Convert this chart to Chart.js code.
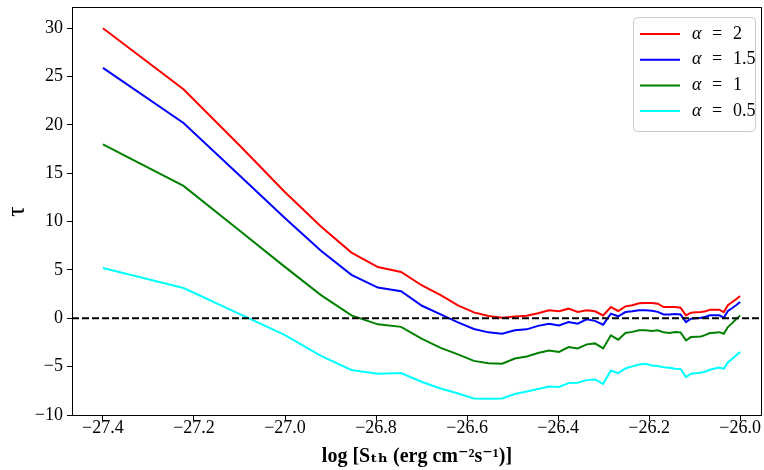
<!DOCTYPE html>
<html><head><meta charset="utf-8">
<script src="https://cdn.jsdelivr.net/npm/chart.js@4"></script>
<style>html,body{margin:0;padding:0;background:#fff}#wrap{width:764px;height:470px}</style>
</head><body><div id="wrap"><canvas id="c" width="764" height="470"></canvas></div>
<script>
const xVals = [-27.400,-27.223,-27.098,-27.001,-26.921,-26.854,-26.796,-26.745,-26.699,-26.658,-26.620,-26.585,-26.553,-26.523,-26.495,-26.469,-26.444,-26.420,-26.398,-26.377,-26.357,-26.337,-26.319,-26.301,-26.284,-26.268,-26.252,-26.237,-26.222,-26.208,-26.194,-26.181,-26.168,-26.155,-26.143,-26.131,-26.119,-26.108,-26.097,-26.086,-26.076,-26.066,-26.056,-26.046,-26.036,-26.027,-26.018,-26.009,-26.000];
const tauAlpha2 = [30.0,23.7,17.8,13.1,9.5,6.8,5.3,4.8,3.4,2.4,1.35,0.62,0.24,0.07,0.2,0.26,0.52,0.83,0.73,1.0,0.65,0.83,0.73,0.3,1.17,0.76,1.24,1.35,1.55,1.59,1.59,1.52,1.17,1.17,1.17,1.1,0.31,0.59,0.62,0.65,0.73,0.9,0.9,0.9,0.65,1.35,1.66,1.97,2.31];
const tauAlpha15 = [25.9,20.2,14.7,10.4,7.0,4.5,3.18,2.8,1.3,0.41,-0.41,-1.1,-1.45,-1.59,-1.24,-1.14,-0.78,-0.57,-0.73,-0.38,-0.55,-0.1,-0.26,-0.65,0.49,0.21,0.65,0.73,0.83,0.83,0.78,0.67,0.41,0.41,0.44,0.41,-0.38,-0.03,0.0,0.07,0.16,0.31,0.31,0.31,0.07,0.76,1.04,1.35,1.69];
const tauAlpha1 = [18.0,13.7,9.0,5.35,2.4,0.31,-0.62,-0.88,-2.12,-3.06,-3.73,-4.4,-4.64,-4.69,-4.15,-3.94,-3.58,-3.32,-3.47,-2.97,-3.11,-2.69,-2.59,-3.11,-1.76,-2.21,-1.52,-1.4,-1.24,-1.24,-1.3,-1.24,-1.45,-1.52,-1.42,-1.45,-2.28,-1.94,-1.9,-1.87,-1.71,-1.52,-1.48,-1.43,-1.59,-0.9,-0.52,-0.1,0.31];
const tauAlpha05 = [5.21,3.14,0.41,-1.71,-3.89,-5.34,-5.73,-5.65,-6.58,-7.25,-7.77,-8.29,-8.32,-8.29,-7.82,-7.56,-7.31,-7.05,-7.1,-6.7,-6.66,-6.39,-6.32,-6.77,-5.39,-5.67,-5.18,-4.97,-4.77,-4.69,-4.87,-4.94,-5.05,-5.11,-5.21,-5.23,-6.08,-5.73,-5.68,-5.63,-5.49,-5.32,-5.18,-5.08,-5.21,-4.56,-4.2,-3.83,-3.49];
const seriesLabels = ['α = 2','α = 1.5','α = 1','α = 0.5'];
const seriesColors = ['#ff0000','#0000ff','#008000','#00ffff'];
const xTicks = [-27.4,-27.2,-27.0,-26.8,-26.6,-26.4,-26.2,-26.0];
const yTicks = [-10,-5,0,5,10,15,20,25,30];
const xTitle = 'log [Sₜₕ (erg cm⁻²s⁻¹)]';
const yTitle = 'τ';
const refLevel = 0;

const FONT = "'Liberation Serif','DejaVu Serif',serif";
const allSeries = [tauAlpha2, tauAlpha15, tauAlpha1, tauAlpha05];
const fmt = (v, d) => (v < 0 ? '\u2212' : '') + Math.abs(v).toFixed(d);

const bgPlugin = {
  id: 'bg',
  beforeDraw(chart) {
    const ctx = chart.ctx; ctx.save(); ctx.fillStyle = '#fff';
    ctx.fillRect(0, 0, chart.width, chart.height); ctx.restore();
  }
};
const refPlugin = {
  id: 'ref',
  afterDatasetsDraw(chart) {
    const {ctx, chartArea: a, scales} = chart;
    const y = scales.y.getPixelForValue(refLevel);
    ctx.save(); ctx.strokeStyle = '#000'; ctx.lineWidth = 2; ctx.setLineDash([7, 3]);
    ctx.beginPath(); ctx.moveTo(a.left, y); ctx.lineTo(a.right, y); ctx.stroke(); ctx.restore();
  }
};
const framePlugin = {
  id: 'frame',
  afterDraw(chart) {
    const {ctx, chartArea: a} = chart;
    ctx.save(); ctx.strokeStyle = '#000'; ctx.lineWidth = 1;
    ctx.strokeRect(Math.round(a.left) + 0.5, Math.round(a.top) + 0.5, Math.round(a.right - a.left) - 1, Math.round(a.bottom - a.top) - 1);
    ctx.restore();
  }
};
const legendPlugin = {
  id: 'customLegend',
  afterDraw(chart) {
    const {ctx, chartArea: a} = chart;
    const boxW = 122, boxH = 114;
    const x0 = a.right - 7 - boxW, y0 = a.top + 10;
    ctx.save();
    ctx.beginPath();
    ctx.roundRect(x0 + 0.5, y0 + 0.5, boxW, boxH, 4);
    ctx.fillStyle = 'rgba(255,255,255,0.8)'; ctx.fill();
    ctx.strokeStyle = '#cccccc'; ctx.lineWidth = 1; ctx.stroke();
    chart.data.datasets.forEach((ds, i) => {
      const cy = y0 + 17 + i * 25.7;
      ctx.strokeStyle = ds.borderColor; ctx.lineWidth = 2;
      ctx.beginPath(); ctx.moveTo(x0 + 7, cy); ctx.lineTo(x0 + 47, cy); ctx.stroke();
      const parts = ds.label.split(' = ');
      const tx = x0 + 59;
      ctx.fillStyle = '#000'; ctx.textBaseline = 'middle'; ctx.textAlign = 'left';
      ctx.font = 'italic 18px ' + FONT; ctx.fillText(parts[0], tx, cy);
      ctx.font = '18px ' + FONT; ctx.fillText('=', tx + 20, cy); ctx.fillText(parts[1], tx + 41, cy);
    });
    ctx.restore();
  }
};

new Chart(document.getElementById('c'), {
  type: 'line',
  data: {
    datasets: allSeries.map((arr, i) => ({
      label: seriesLabels[i],
      data: xVals.map((x, j) => ({x: x, y: arr[j]})),
      borderColor: seriesColors[i],
      backgroundColor: seriesColors[i],
      borderWidth: 2, pointRadius: 0, tension: 0, fill: false
    }))
  },
  options: {
    responsive: false, animation: false,
    layout: {padding: {left: 0, right: 2, top: 7, bottom: 0}},
    plugins: {legend: {display: false}, tooltip: {enabled: false}},
    scales: {
      x: {
        type: 'linear', min: -27.468, max: -25.952,
        afterBuildTicks: s => { s.ticks = xTicks.map(v => ({value: v})); },
        afterFit: s => { s.height = 54; s.paddingLeft = 0; s.paddingRight = 0; },
        ticks: {callback: v => fmt(v, 1), font: {family: FONT, size: 18}, color: '#000', padding: -4, maxRotation: 0, autoSkip: false},
        grid: {drawOnChartArea: false, drawTicks: true, tickLength: 5, color: '#000', lineWidth: 1},
        border: {display: false},
        title: {display: true, text: xTitle, font: {family: FONT, size: 20, weight: 'bold'}, color: '#000', padding: {top: 0, bottom: 1}}
      },
      y: {
        type: 'linear', min: -10.1, max: 32.2,
        afterBuildTicks: s => { s.ticks = yTicks.map(v => ({value: v})); },
        afterFit: s => { s.width = 72; s.paddingTop = 0; s.paddingBottom = 0; },
        ticks: {callback: v => fmt(v, 0), font: {family: FONT, size: 18}, color: '#000', padding: 4, autoSkip: false},
        grid: {drawOnChartArea: false, drawTicks: true, tickLength: 5, color: '#000', lineWidth: 1},
        border: {display: false},
        title: {display: true, text: yTitle, font: {family: FONT, size: 26}, color: '#000', padding: {top: 2, bottom: 0}}
      }
    }
  },
  plugins: [bgPlugin, refPlugin, framePlugin, legendPlugin]
});
</script></body></html>
